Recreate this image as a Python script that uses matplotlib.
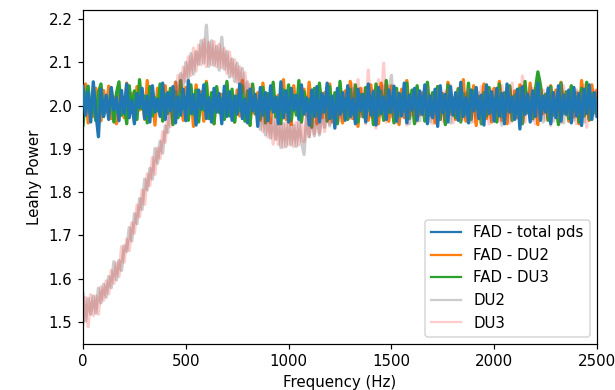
import matplotlib
matplotlib.use("Agg")
import matplotlib.pyplot as plt
import numpy as np

# frequency grid of the power density spectra (Hz)
freq = np.arange(201) * 12.5

fad_total = [
    2.045, 1.978, 2.031, 1.962, 2.055, 1.985, 1.928, 2.038, 1.975, 2.024,
    1.968, 2.042, 1.990, 2.018, 1.965, 2.035, 1.982, 2.050, 1.972, 2.012,
    1.958, 2.028, 1.995, 2.040, 1.970, 2.022, 1.962, 2.046, 1.985, 2.015,
    1.975, 2.052, 1.968, 2.030, 1.988, 2.044, 1.960, 2.020, 1.978, 2.038,
    1.965, 2.058, 1.982, 2.025, 1.955, 2.036, 1.992, 2.048, 1.970, 2.018,
    1.962, 2.040, 1.985, 2.028, 1.958, 2.045, 1.975, 2.032, 1.966, 2.022,
    1.980, 2.050, 1.970, 2.015, 1.960, 2.038, 1.988, 2.026, 1.952, 2.042,
    1.978, 2.030, 1.965, 2.046, 1.985, 2.020, 1.958, 2.055, 1.972, 2.034,
    1.962, 2.040, 1.990, 2.024, 1.968, 2.048, 1.980, 2.018, 1.955, 2.036,
    1.975, 2.044, 1.962, 2.028, 1.985, 2.052, 1.970, 2.022, 1.948, 2.040,
    1.980, 2.030, 1.966, 2.046, 1.975, 2.016, 1.958, 2.038, 1.988, 2.026,
    1.962, 2.050, 1.978, 2.032, 1.955, 2.042, 1.982, 2.020, 1.968, 2.036,
    1.985, 2.045, 1.964, 2.028, 1.976, 2.052, 1.960, 2.024, 1.990, 2.040,
    1.966, 2.034, 1.980, 2.048, 1.958, 2.022, 1.972, 2.038, 1.952, 2.046,
    1.984, 2.026, 1.962, 2.044, 1.978, 2.030, 1.966, 2.054, 1.975, 2.018,
    1.960, 2.036, 1.988, 2.042, 1.970, 2.024, 1.955, 2.048, 1.982, 2.032,
    1.964, 2.040, 1.976, 2.028, 1.958, 2.050, 1.985, 2.020, 1.968, 2.038,
    1.946, 2.044, 1.980, 2.026, 1.962, 2.034, 1.975, 2.052, 1.966, 2.022,
    1.985, 2.040, 1.958, 2.030, 1.972, 2.046, 1.964, 2.024, 1.980, 2.036,
    1.960, 2.042, 1.976, 2.028, 1.954, 2.038, 1.982, 2.048, 1.968, 2.030, 1.975,
]

fad_du2 = [
    2.030, 2.050, 1.960, 2.010, 1.975, 2.040, 2.000, 1.965, 2.035, 1.985,
    2.045, 1.970, 2.020, 1.958, 2.038, 2.005, 1.972, 2.052, 1.982, 2.028,
    1.962, 2.044, 1.990, 2.018, 1.968, 2.058, 1.978, 2.025, 1.955, 2.040,
    2.008, 1.972, 2.046, 1.985, 2.030, 1.960, 2.054, 1.992, 2.015, 1.966,
    2.042, 1.975, 2.022, 1.952, 2.048, 1.988, 2.032, 1.964, 2.056, 1.980,
    2.018, 1.958, 2.040, 1.995, 2.026, 1.970, 2.050, 1.984, 2.012, 1.962,
    2.036, 1.976, 2.058, 1.990, 2.020, 1.955, 2.044, 1.980, 2.030, 1.966,
    2.052, 1.986, 2.014, 1.960, 2.040, 1.974, 2.024, 1.992, 2.060, 1.968,
    2.028, 1.956, 2.046, 1.982, 2.018, 1.964, 2.038, 1.978, 2.054, 1.990,
    2.010, 1.958, 2.042, 1.972, 2.030, 1.986, 2.050, 1.962, 2.022, 1.976,
    2.044, 1.960, 2.034, 1.984, 2.056, 1.970, 2.016, 1.952, 2.040, 1.980,
    2.026, 1.966, 2.048, 1.990, 2.012, 1.958, 2.052, 1.976, 2.032, 1.964,
    2.046, 1.982, 2.020, 1.956, 2.038, 1.972, 2.058, 1.988, 2.024, 1.962,
    2.042, 1.978, 2.030, 1.966, 2.050, 1.985, 2.014, 1.960, 2.044, 1.974,
    2.028, 1.958, 2.054, 1.980, 2.018, 1.968, 2.040, 1.990, 2.060, 1.964,
    2.032, 1.976, 2.046, 1.954, 2.022, 1.986, 2.050, 1.970, 2.012, 1.962,
    2.040, 1.980, 2.056, 1.966, 2.026, 1.958, 2.044, 1.984, 2.034, 1.972,
    2.048, 1.962, 2.020, 1.988, 2.052, 1.976, 2.030, 1.956, 2.042, 1.982,
    2.016, 1.968, 2.046, 1.978, 2.036, 1.960, 2.054, 1.986, 2.024, 1.964,
    2.044, 1.974, 2.030, 1.958, 2.058, 1.980, 2.020, 1.966, 2.048, 1.984, 2.035,
]

fad_du3 = [
    1.955, 2.020, 2.045, 1.980, 2.010, 1.965, 2.030, 2.050, 1.975, 2.015,
    1.990, 2.040, 1.962, 2.028, 2.055, 1.978, 2.012, 1.958, 2.046, 1.985,
    2.034, 1.968, 2.060, 1.992, 2.022, 1.960, 2.044, 1.976, 2.018, 1.988,
    2.050, 1.964, 2.026, 1.982, 2.040, 1.956, 2.032, 1.972, 2.058, 1.994,
    2.014, 1.966, 2.048, 1.980, 2.036, 1.962, 2.024, 1.990, 2.052, 1.970,
    2.030, 1.958, 2.044, 1.984, 2.016, 1.968, 2.056, 1.976, 2.038, 1.962,
    2.022, 1.988, 2.046, 1.964, 2.034, 1.954, 2.050, 1.982, 2.012, 1.970,
    2.042, 1.960, 2.028, 1.992, 2.054, 1.974, 2.018, 1.958, 2.036, 1.986,
    2.048, 1.966, 2.024, 1.978, 2.058, 1.962, 2.032, 1.990, 2.014, 1.950,
    2.040, 1.976, 2.052, 1.984, 2.020, 1.964, 2.044, 1.972, 2.030, 1.958,
    2.056, 1.986, 2.016, 1.968, 2.038, 1.980, 2.048, 1.962, 2.026, 1.974,
    2.042, 1.990, 2.020, 1.956, 2.050, 1.978, 2.034, 1.966, 2.058, 1.984,
    2.012, 1.960, 2.040, 1.976, 2.026, 1.988, 2.052, 1.970, 2.036, 1.958,
    2.046, 1.982, 2.018, 1.964, 2.054, 1.978, 2.030, 1.992, 2.044, 1.968,
    2.024, 1.956, 2.048, 1.986, 2.014, 1.972, 2.038, 1.962, 2.028, 1.980,
    2.052, 1.968, 2.034, 1.990, 2.020, 1.958, 2.030, 1.976, 2.042, 1.984,
    2.016, 1.962, 2.050, 1.974, 2.030, 1.988, 2.046, 1.966, 2.024, 1.980,
    2.040, 1.958, 2.056, 1.984, 2.018, 1.970, 2.036, 2.078, 2.048, 1.990,
    2.026, 1.966, 2.044, 1.978, 2.012, 1.956, 2.052, 1.982, 2.032, 1.970,
    2.046, 1.988, 2.020, 1.962, 2.040, 1.976, 2.054, 1.968, 2.028, 1.984, 2.010,
]

du2 = [
    1.565, 1.502, 1.554, 1.518, 1.560, 1.520, 1.578, 1.544, 1.587, 1.557,
    1.605, 1.579, 1.639, 1.597, 1.642, 1.619, 1.676, 1.663, 1.718, 1.687,
    1.750, 1.727, 1.785, 1.760, 1.830, 1.805, 1.855, 1.830, 1.901, 1.867,
    1.918, 1.890, 1.953, 1.938, 2.007, 1.990, 2.055, 2.020, 2.074, 2.046,
    2.100, 2.063, 2.120, 2.073, 2.125, 2.095, 2.150, 2.098, 2.186, 2.091,
    2.150, 2.093, 2.137, 2.082, 2.158, 2.084, 2.125, 2.066, 2.108, 2.056,
    2.098, 2.045, 2.086, 2.021, 2.055, 1.994, 2.038, 1.982, 2.021, 1.945,
    1.995, 1.932, 1.975, 1.925, 1.976, 1.922, 1.968, 1.903, 1.958, 1.905,
    1.965, 1.909, 1.955, 1.906, 1.962, 1.919, 1.887, 1.973, 1.928, 1.981,
    1.930, 1.978, 1.932, 1.991, 1.950, 2.004, 1.953, 2.002, 1.956, 2.015,
    1.973, 2.026, 1.973, 2.020, 1.972, 2.039, 1.985, 2.030, 1.975, 2.025,
    1.968, 2.040, 1.980, 2.035, 1.962, 2.030, 1.975, 2.045, 1.970, 2.028,
    2.070, 1.975, 2.032, 1.960, 2.025, 1.985, 2.038, 1.958, 2.022, 1.980,
    2.030, 1.965, 2.026, 1.975, 2.040, 1.962, 2.018, 1.982, 2.035, 1.968,
    2.028, 1.972, 2.036, 1.960, 2.020, 1.984, 2.032, 1.966, 2.025, 1.978,
    2.038, 1.962, 2.022, 1.976, 2.030, 1.958, 2.026, 1.980, 2.034, 1.966,
    2.020, 1.974, 2.036, 1.955, 2.028, 1.978, 2.040, 1.964, 2.024, 1.972,
    2.032, 1.960, 2.026, 1.982, 2.044, 1.966, 2.020, 1.975, 2.034, 1.962,
    2.028, 1.978, 2.038, 1.964, 2.022, 1.972, 2.050, 1.960, 2.030, 1.976,
    2.024, 1.966, 2.036, 1.980, 2.028, 1.962, 2.040, 1.970, 2.026, 1.978, 2.012,
]

du3 = [
    1.495, 1.557, 1.489, 1.563, 1.515, 1.560, 1.518, 1.581, 1.550, 1.595,
    1.565, 1.619, 1.589, 1.637, 1.605, 1.674, 1.638, 1.691, 1.665, 1.729,
    1.705, 1.770, 1.743, 1.805, 1.772, 1.842, 1.815, 1.880, 1.841, 1.902,
    1.878, 1.940, 1.915, 1.983, 1.952, 2.025, 2.005, 2.070, 2.032, 2.089,
    2.055, 2.113, 2.070, 2.133, 2.080, 2.140, 2.095, 2.153, 2.090, 2.146,
    2.095, 2.148, 2.090, 2.142, 2.088, 2.132, 2.075, 2.124, 2.068, 2.106,
    2.053, 2.090, 2.031, 2.076, 2.015, 2.049, 1.983, 2.022, 1.966, 2.002,
    1.940, 1.987, 1.927, 1.970, 1.911, 1.967, 1.910, 1.958, 1.904, 1.960,
    1.910, 1.964, 1.905, 1.961, 1.909, 1.959, 1.917, 1.975, 1.928, 1.973,
    1.935, 1.988, 1.937, 1.986, 1.940, 1.999, 1.958, 2.012, 1.961, 2.010,
    1.965, 2.030, 1.978, 2.045, 1.970, 2.050, 1.968, 2.060, 1.975, 2.040,
    1.958, 2.082, 1.972, 2.035, 1.948, 2.060, 1.980, 2.098, 1.962, 2.045,
    1.975, 2.040, 1.960, 2.030, 1.985, 2.038, 1.955, 2.025, 1.978, 2.035,
    1.962, 2.030, 1.980, 2.042, 1.966, 2.025, 1.958, 2.036, 1.975, 2.028,
    1.964, 2.034, 1.978, 2.048, 1.960, 2.026, 1.985, 2.040, 1.968, 2.030,
    1.976, 2.036, 1.962, 2.028, 1.980, 2.044, 1.966, 2.024, 1.958, 2.038,
    1.972, 2.030, 1.964, 2.046, 1.978, 2.026, 1.960, 2.052, 1.970, 2.034,
    1.980, 2.068, 1.962, 2.030, 1.974, 2.040, 1.958, 2.028, 1.976, 2.036,
    1.966, 2.044, 1.954, 2.030, 1.972, 2.038, 1.960, 2.046, 1.978, 2.026,
    1.964, 2.040, 1.958, 2.032, 1.976, 2.048, 1.950, 2.030, 1.972, 2.036, 2.010,
]

dpi = 108
fig = plt.figure(figsize=(615 / dpi, 390 / dpi), dpi=dpi)
ax = fig.add_axes([83 / 615, 46 / 390, 514 / 615, 334 / 390])

# blue on top of everything, the DU curves half see-through
lw = 2.2
ax.plot(freq, fad_total, color="C0", lw=lw, label="FAD - total pds", zorder=3)
ax.plot(freq, fad_du2, color="C1", lw=lw, label="FAD - DU2")
ax.plot(freq, fad_du3, color="C2", lw=lw, label="FAD - DU3")
ax.plot(freq, du2, color="gray", alpha=0.4, lw=lw, label="DU2")
ax.plot(freq, du3, color="red", alpha=0.2, lw=lw, label="DU3")

ax.set_xlim(0, 2500)
ax.set_ylim(1.449, 2.221)
ax.set_xlabel("Frequency (Hz)")
ax.set_ylabel("Leahy Power")
leg = ax.legend(loc="lower right")
for h in leg.get_lines():
    h.set_linewidth(1.5)

fig.savefig("out.png", dpi=dpi)
